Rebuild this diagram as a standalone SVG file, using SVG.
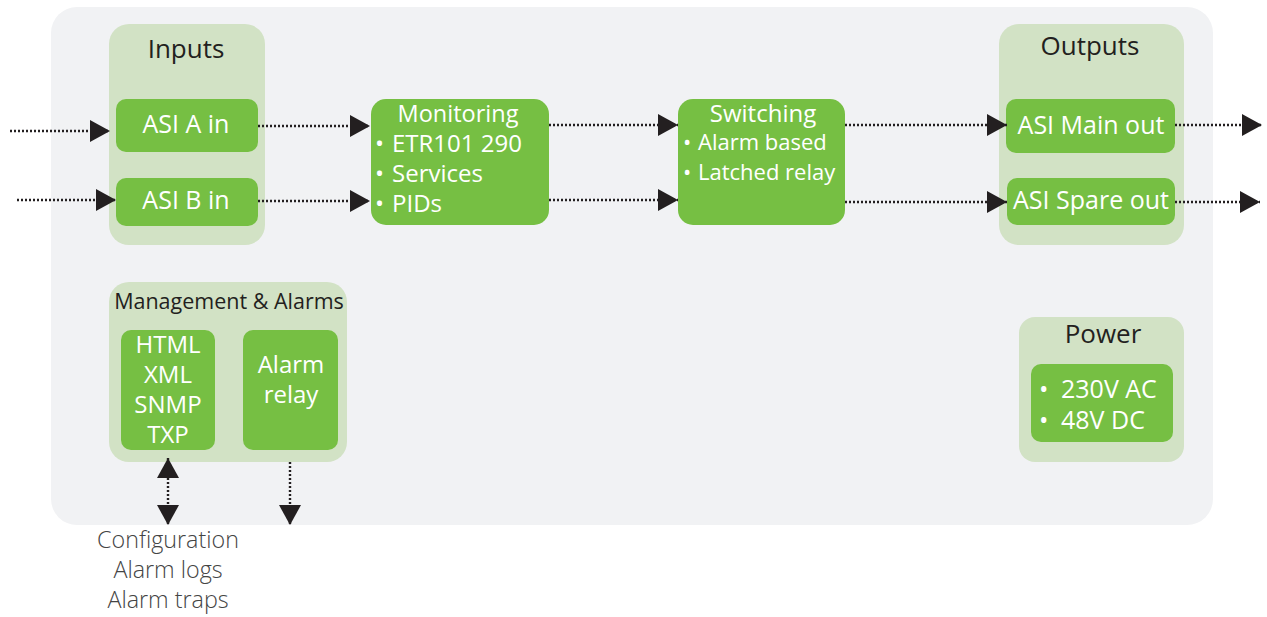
<svg xmlns="http://www.w3.org/2000/svg" width="1267" height="617" viewBox="0 0 1267 617">
<defs>
<style>
text{font-family:"Open Sans","Noto Sans","DejaVu Sans",sans-serif}
.grp{fill:#d2e2c5}
.box{fill:#76bf43}
.t{fill:#231f20;font-size:26px;text-anchor:middle}
.w{fill:#fff;font-size:24px}
.wc{fill:#fff;font-size:25px;text-anchor:middle}
.s{fill:#fff;font-size:22px}
.lbl{fill:#444;font-size:23.3px;text-anchor:middle;font-weight:300}
.c{stroke:#231f20;stroke-width:2.4;stroke-dasharray:2 2;fill:none;marker-end:url(#ah)}
</style>
<marker id="ah" markerUnits="userSpaceOnUse" markerWidth="20" markerHeight="22" refX="20" refY="11" orient="auto-start-reverse" viewBox="0 0 20 22">
<path d="M0,0 L20,11 L0,22 z" fill="#231f20"/>
</marker>
</defs>
<rect x="51" y="7" width="1162" height="518" rx="26" fill="#f1f2f4"/>

<g id="inputs">
<rect class="grp" x="109" y="24" width="156" height="221" rx="20"/>
<text class="t" x="186" y="58">Inputs</text>
</g>
<g id="asi-a-in">
<rect class="box" x="116" y="99" width="142" height="53" rx="10"/>
<text class="wc" x="186" y="133">ASI A in</text>
</g>
<g id="asi-b-in">
<rect class="box" x="116" y="178" width="142" height="48" rx="10"/>
<text class="wc" x="186" y="209">ASI B in</text>
</g>

<g id="monitoring">
<rect class="box" x="371" y="99" width="178" height="126" rx="15"/>
<text class="wc" x="458" y="122" style="font-size:23.5px">Monitoring</text>
<text class="w" y="152"><tspan x="375">•</tspan><tspan x="392">ETR101 290</tspan></text>
<text class="w" y="182"><tspan x="375">•</tspan><tspan x="392">Services</tspan></text>
<text class="w" y="212"><tspan x="375">•</tspan><tspan x="392">PIDs</tspan></text>
</g>

<g id="switching">
<rect class="box" x="678" y="99" width="167" height="126" rx="15"/>
<text class="wc" x="763" y="122" style="font-size:24px">Switching</text>
<text class="s" y="150"><tspan x="683">•</tspan><tspan x="698">Alarm based</tspan></text>
<text class="s" y="180"><tspan x="683">•</tspan><tspan x="698">Latched relay</tspan></text>
</g>

<g id="outputs">
<rect class="grp" x="999" y="24" width="185" height="221" rx="20"/>
<text class="t" x="1090" y="55">Outputs</text>
</g>
<g id="asi-main-out">
<rect class="box" x="1006" y="99" width="169" height="54" rx="10"/>
<text class="wc" x="1091" y="134">ASI Main out</text>
</g>
<g id="asi-spare-out">
<rect class="box" x="1007" y="178" width="168" height="47" rx="10"/>
<text class="wc" x="1091" y="209">ASI Spare out</text>
</g>

<g id="management">
<rect class="grp" x="109" y="282" width="238" height="180" rx="20"/>
<text class="t" x="229" y="309" style="font-size:21.5px">Management &amp; Alarms</text>
</g>
<g id="protocols">
<rect class="box" x="121" y="330" width="94" height="120" rx="10"/>
<text class="wc" x="168" y="353" style="font-size:24px">HTML</text>
<text class="wc" x="168" y="383" style="font-size:24px">XML</text>
<text class="wc" x="168" y="413" style="font-size:24px">SNMP</text>
<text class="wc" x="168" y="443" style="font-size:24px">TXP</text>
</g>
<g id="alarm-relay">
<rect class="box" x="243" y="330" width="95" height="120" rx="10"/>
<text class="wc" x="291" y="373" style="font-size:24px">Alarm</text>
<text class="wc" x="291" y="403" style="font-size:24px">relay</text>
</g>

<g id="power">
<rect class="grp" x="1019" y="317" width="165" height="145" rx="16"/>
<text class="t" x="1103" y="343">Power</text>
<rect class="box" x="1031" y="364" width="142" height="78" rx="10"/>
<text class="w" y="398" style="font-size:25px"><tspan x="1039">•</tspan><tspan x="1061">230V AC</tspan></text>
<text class="w" y="429" style="font-size:25px"><tspan x="1039">•</tspan><tspan x="1061">48V DC</tspan></text>
</g>

<g id="connectors">
<line class="c" x1="10" y1="131" x2="110" y2="131"/>
<line class="c" x1="17" y1="200" x2="116" y2="200"/>
<line class="c" x1="258" y1="126" x2="370" y2="126"/>
<line class="c" x1="258" y1="201" x2="370" y2="201"/>
<line class="c" x1="549" y1="125" x2="678" y2="125"/>
<line class="c" x1="549" y1="200" x2="678" y2="200"/>
<line class="c" x1="845" y1="125" x2="1007" y2="125"/>
<line class="c" x1="845" y1="202" x2="1007" y2="202"/>
<line class="c" x1="1175" y1="125" x2="1262" y2="125"/>
<line class="c" x1="1175" y1="202" x2="1260" y2="202"/>
<line class="c" x1="168" y1="458" x2="168" y2="525" style="marker-start:url(#ah)"/>
<line class="c" x1="290" y1="462" x2="290" y2="525"/>
</g>

<g id="external-labels">
<text class="lbl" x="168" y="548">Configuration</text>
<text class="lbl" x="168" y="578">Alarm logs</text>
<text class="lbl" x="168" y="608">Alarm traps</text>
</g>
</svg>
